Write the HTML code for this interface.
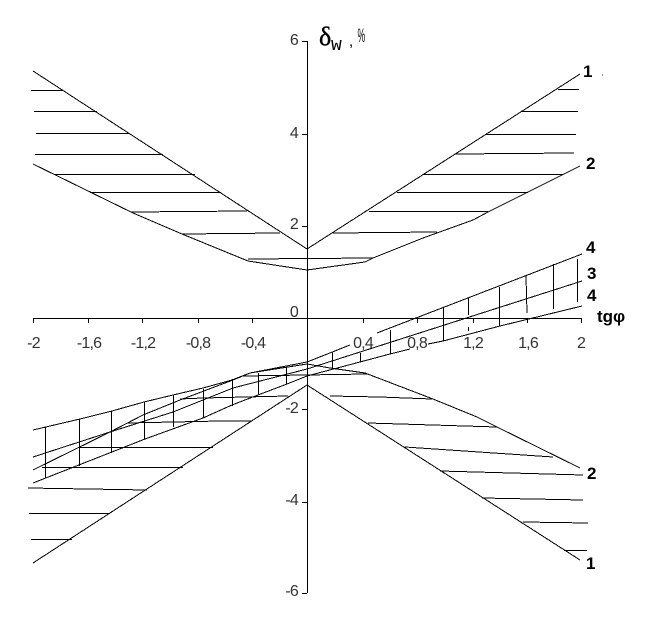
<!DOCTYPE html>
<html>
<head>
<meta charset="utf-8">
<style>
html,body{margin:0;padding:0;background:#fff;width:661px;height:634px;overflow:hidden}
svg{display:block}
.l{fill:none;stroke:#000;stroke-width:1;shape-rendering:crispEdges}
.n{font:16px "Liberation Sans",sans-serif;fill:#333;letter-spacing:-.8px}
.b{font:bold 17px "Liberation Sans",sans-serif;fill:#000}
</style>
</head>
<body>
<svg width="661" height="634" viewBox="0 0 661 634" xmlns="http://www.w3.org/2000/svg">
<rect width="661" height="634" fill="#fff"/>
<!-- axes -->
<path class="l" d="M307.5 41V593M33 318.5H581"/>
<path class="l" d="M302 41.5H307M302 134.5H307M302 226.5H307M302 409.5H307M302 502.5H307M302 593.5H307"/>
<path class="l" d="M33.5 318V323M88.5 318V323M142.5 318V323M198.5 318V323M252.5 318V323M307.5 318V323M363.5 318V323M417.5 318V323M473.5 318V323M527.5 318V323M581.5 318V323"/>
<!-- curves 1 and 2, upper -->
<path class="l" d="M33 71L307 249L580 74"/>
<path class="l" d="M33 164L133 213L182 234L248 261L307 270L365 262L373 258L423 238L473 220L488 212L528 192L580 166"/>
<!-- hatch upper -->
<path class="l" d="M31 90.5H63M34 111.5H97M36 133.5H130M35 154.5H163M55 174.5H195M90 192.5H221M131 212L247 211M182 234L280 233M248 259L373 258"/>
<path class="l" d="M558 89.5H579M522 111.5H578M485 134.5H576M455 154L574 153M424 174.5H563M397 192.5H528M369 211.5H488M333 233L437 232"/>
<!-- curves lower -->
<path class="l" d="M33 563L307 385L580 560"/>
<path class="l" d="M33 470L110 432L143 415L180 400L233 380L250 373L307 364L330 368L365 373L433 399L477 417L497 427L580 468"/>
<!-- band lines -->
<path class="l" d="M33 430L80 419L112 411L144 402L173 395L203 388L232 380L250 373L307 362L350 345M377 333L582 254"/>
<path class="l" d="M33 457L110 432L173 412L233 388L307 369L582 281"/>
<path class="l" d="M33 483L145 439L203 418L232 405L258 395L287 384L307 376L360 362L390 354L410 349M428 344L443 341L500 326L582 306"/>
<!-- verticals -->
<path class="l" d="M45.500 427V478M79.500 419V466M111.500 411V453M144.500 402V439M173.500 395V427M203.500 389V418M232.500 379V406M258.500 373V395M286.500 367V384"/>
<path class="l" d="M332.500 352V368M360.500 353V362M390.500 330V354M443.500 308V341M468.500 298V315M468.500 327V331M499.500 287V326M526 276L527 313M553.500 264V309M577.500 259V302"/>
<!-- hatch lower -->
<path class="l" d="M28 488L88 489L147 490M29 513.500H110M31 539.500H72M42 467.500H183M80 447.500H213M127 423L220 421L252 421M180 399L203 398L288 396M243 376L367 374"/>
<path class="l" d="M330 396L380 397L432 399M368 423L497 427M405 447L553 457M440 471L583 475M482 498L583 500M523 522L588 523M564 550.500H587"/>
<!-- y labels -->
<g class="n" text-anchor="end">
<text x="298" y="45">6</text>
<text x="298" y="138">4</text>
<text x="298" y="229">2</text>
<text x="298" y="317">0</text>
<text x="298" y="413">-2</text>
<text x="298" y="505">-4</text>
<text x="298" y="596">-6</text>
</g>
<!-- x labels -->
<g class="n" text-anchor="middle">
<text x="33.500" y="348">-2</text>
<text x="89" y="348">-1,6</text>
<text x="143" y="348">-1,2</text>
<text x="198" y="348">-0,8</text>
<text x="253" y="348">-0,4</text>
<text x="363" y="348">0,4</text>
<text x="417" y="348">0,8</text>
<text x="473" y="348">1,2</text>
<text x="528" y="348">1,6</text>
<text x="581" y="348">2</text>
</g>
<!-- title -->
<text x="319" y="45" font-family="'Liberation Serif',serif" font-size="26" fill="#000" stroke="#000" stroke-width=".4">δ</text>
<text x="331" y="50" font-family="'Liberation Mono',monospace" font-size="18" fill="#000">w</text>
<text x="349" y="46" font-family="'Liberation Sans',sans-serif" font-size="15" fill="#000">,</text>
<text transform="translate(357.500 42) scale(.45 1)" font-family="'Liberation Sans',sans-serif" font-size="19" fill="#000">%</text>
<!-- curve labels -->
<g class="b">
<text x="583" y="77">1</text>
<text x="586" y="169">2</text>
<text x="586" y="253">4</text>
<text x="587" y="279">3</text>
<text x="587" y="301">4</text>
<text x="587" y="479">2</text>
<text x="586" y="569">1</text>
<text x="597" y="322">tgφ</text>
</g>
<rect x="602" y="74" width="1" height="2" fill="#999"/>
</svg>
</body>
</html>
